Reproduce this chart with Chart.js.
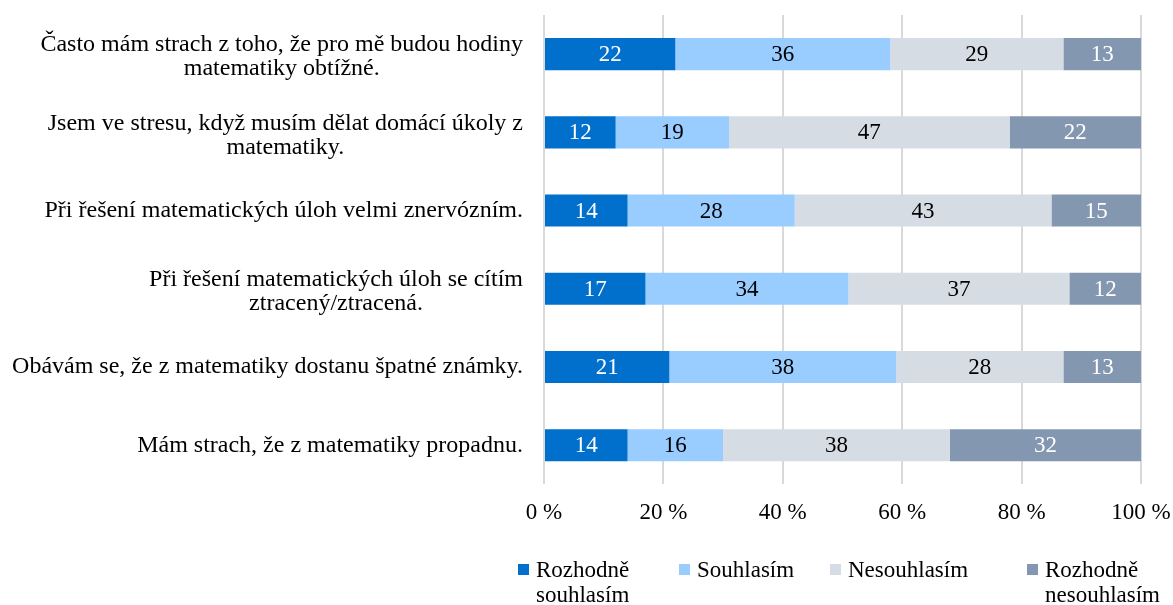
<!DOCTYPE html>
<html>
<head>
<meta charset="utf-8">
<script src="https://cdn.jsdelivr.net/npm/chart.js@4.4.1/dist/chart.umd.min.js"></script>
<style>
  html, body { margin: 0; padding: 0; background: #fff; }
  #wrap { position: relative; width: 1173px; height: 605px; }
  #legend { position: absolute; top: 557px; left: 0; width: 1173px; font-family: "Liberation Serif", "Times New Roman", serif; font-size: 23px; color: #000; }
  .item { position: absolute; line-height: 25px; }
  .box { position: absolute; left: -18px; top: 7px; width: 11px; height: 11px; }
</style>
</head>
<body>
<div id="wrap">
  <canvas id="chart" width="1173" height="605"></canvas>
  <div id="legend"></div>
</div>
<script>
const categories = [
  ['Často mám strach z toho, že pro mě budou hodiny', 'matematiky obtížné.'],
  ['Jsem ve stresu, když musím dělat domácí úkoly z', 'matematiky.'],
  ['Při řešení matematických úloh velmi znervózním.'],
  ['Při řešení matematických úloh se cítím', 'ztracený/ztracená.'],
  ['Obávám se, že z matematiky dostanu špatné známky.'],
  ['Mám strach, že z matematiky propadnu.']
];
const seriesNames = [['Rozhodně', 'souhlasím'], ['Souhlasím'], ['Nesouhlasím'], ['Rozhodně', 'nesouhlasím']];
const stronglyAgree = [22, 12, 14, 17, 21, 14];
const agree = [36, 19, 28, 34, 38, 16];
const disagree = [29, 47, 43, 37, 28, 38];
const stronglyDisagree = [13, 22, 15, 12, 13, 32];
const xTicks = [0, 20, 40, 60, 80, 100];

const colors = ['#0070CC', '#99CCFF', '#D6DCE4', '#8497B0'];
const labelColors = ['#fff', '#000', '#000', '#fff'];
const FONT = '"Liberation Serif", "Times New Roman", serif';

// value labels in the middle of each bar segment
const valueLabels = {
  id: 'valueLabels',
  afterDatasetsDraw(chart) {
    const ctx = chart.ctx;
    ctx.save();
    ctx.font = '23px ' + FONT;
    ctx.textAlign = 'center';
    ctx.textBaseline = 'middle';
    chart.data.datasets.forEach((ds, i) => {
      chart.getDatasetMeta(i).data.forEach((bar, j) => {
        const mid = (bar.x + bar.base) / 2;
        ctx.fillStyle = labelColors[i];
        ctx.fillText(ds.data[j], mid, bar.y + 1);
      });
    });
    ctx.restore();
  }
};

// category labels: block right aligned, lines centered inside the block
const categoryLabels = {
  id: 'categoryLabels',
  afterDraw(chart) {
    const ctx = chart.ctx;
    const y = chart.scales.y;
    const right = chart.chartArea.left - 21;
    ctx.save();
    ctx.font = '24px ' + FONT;
    ctx.fillStyle = '#000';
    ctx.textAlign = 'center';
    ctx.textBaseline = 'middle';
    categories.forEach((lines, i) => {
      const w = Math.max(...lines.map(l => ctx.measureText(l).width));
      const cx = right - w / 2;
      const lh = 24;
      const cy = y.getPixelForValue(i) + (lines.length > 1 ? 3 : 0);
      const top = cy - (lines.length - 1) * lh / 2;
      lines.forEach((l, k) => ctx.fillText(l, cx, top + k * lh));
    });
    ctx.restore();
  }
};

new Chart(document.getElementById('chart'), {
  type: 'bar',
  data: {
    labels: categories,
    datasets: [stronglyAgree, agree, disagree, stronglyDisagree].map((d, i) => ({
      label: seriesNames[i].join(' '),
      data: d,
      backgroundColor: colors[i],
      borderWidth: 0,
      barPercentage: 0.41,
      categoryPercentage: 1
    }))
  },
  options: {
    indexAxis: 'y',
    responsive: false,
    animation: false,
    layout: { padding: { left: 536, right: 32, top: 15, bottom: 76 } },
    plugins: { legend: { display: false }, tooltip: { enabled: false } },
    scales: {
      x: {
        stacked: true,
        min: 0,
        max: 100,
        afterBuildTicks: axis => { axis.ticks = xTicks.map(v => ({ value: v })); },
        ticks: {
          color: '#000',
          font: { family: FONT, size: 23 },
          padding: 2,
          callback: v => v + ' %'
        },
        grid: { color: '#D9D9D9', lineWidth: 2, drawTicks: true, tickLength: 13, tickColor: 'rgba(0,0,0,0)' },
        border: { display: false }
      },
      y: {
        stacked: true,
        ticks: { display: false },
        grid: { display: false },
        border: { display: false }
      }
    }
  },
  plugins: [valueLabels, categoryLabels]
});

// legend
const legendPos = [536, 697, 848, 1045];
const legend = document.getElementById('legend');
seriesNames.forEach((name, i) => {
  const item = document.createElement('div');
  item.className = 'item';
  item.style.left = legendPos[i] + 'px';
  item.innerHTML = '<span class="box" style="background:' + colors[i] + '"></span>' + name.join('<br>');
  legend.appendChild(item);
});
</script>
</body>
</html>
